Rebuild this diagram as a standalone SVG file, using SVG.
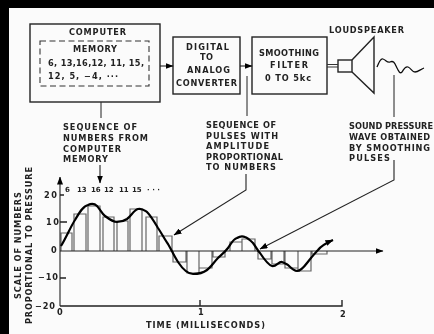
<svg xmlns="http://www.w3.org/2000/svg" width="434" height="334" viewBox="0 0 434 334">
<defs>
<style>
text{font-family:"DejaVu Sans","Liberation Sans",sans-serif;font-size:8.2px;font-weight:bold;fill:#222}
text.n{font-size:7px}
.box{fill:none;stroke:#222;stroke-width:1.4}
.line{fill:none;stroke:#333;stroke-width:1.1}
.arr{fill:none;stroke:#222;stroke-width:1.1;marker-end:url(#ah)}
.bar{fill:none;stroke:#666;stroke-width:1.2}
.curve{fill:none;stroke:#000;stroke-width:2.2;stroke-linejoin:round}
</style>
<marker id="ah" viewBox="0 0 8 6" refX="7.5" refY="3" markerWidth="8" markerHeight="6" markerUnits="userSpaceOnUse" orient="auto"><path d="M0 0L8 3L0 6Z" fill="#000"/></marker>
<filter id="soft" x="-5%" y="-5%" width="110%" height="110%"><feGaussianBlur stdDeviation="0.4"/></filter>
</defs>
<rect width="434" height="334" fill="#000"/>
<rect x="9" y="8" width="425" height="326" fill="#fbfbfb"/>
<g filter="url(#soft)">
<g id="node-computer">
<rect class="box" x="30" y="24" width="130" height="78"/>
<path class="line" stroke-dasharray="6 3.5" d="M40 41H149V86H40Z"/>
<text x="69" y="35" textLength="57">COMPUTER</text>
<text x="73" y="52" textLength="44">MEMORY</text>
<text x="48" y="66" textLength="96">6, 13,16,12, 11, 15,</text>
<text x="48" y="79" textLength="70">12, 5, −4, ···</text>
</g>
<g id="node-converter">
<rect class="box" x="173" y="37" width="67" height="57"/>
<text x="186" y="50" textLength="43">DIGITAL</text>
<text x="200" y="60" textLength="13">TO</text>
<text x="187" y="73" textLength="43">ANALOG</text>
<text x="176" y="86" textLength="61">CONVERTER</text>
</g>
<g id="node-filter">
<rect class="box" x="252" y="37" width="75" height="57"/>
<text x="259" y="56" textLength="60">SMOOTHING</text>
<text x="270" y="68" textLength="38">FILTER</text>
<text x="265" y="81" textLength="46">0 TO 5kc</text>
</g>
<g id="node-loudspeaker">
<rect class="box" x="338" y="60" width="14" height="12"/>
<path class="box" d="M352 60L374 37V93L352 72"/>
<path d="M377 67C379 62 381 58 383 59C386 60 387 63 390 62C394 60 395 64 397 68C399 72 400 74 402 72C404 69 405 66 408 67C411 68 412 72 415 72C418 72 421 69 424 68" fill="none" stroke="#111" stroke-width="1.3"/>
<text x="329" y="33" textLength="75">LOUDSPEAKER</text>
</g>
<g id="label-sequence">
<text x="63" y="130" textLength="74">SEQUENCE OF</text>
<text x="63" y="141" textLength="85">NUMBERS FROM</text>
<text x="63" y="152" textLength="58">COMPUTER</text>
<text x="63" y="162" textLength="45">MEMORY</text>
</g>
<g id="label-pulses">
<text x="206" y="128" textLength="70">SEQUENCE OF</text>
<text x="206" y="139" textLength="72">PULSES WITH</text>
<text x="206" y="149" textLength="63">AMPLITUDE</text>
<text x="206" y="160" textLength="77">PROPORTIONAL</text>
<text x="206" y="170" textLength="70">TO NUMBERS</text>
</g>
<g id="label-wave">
<text x="349" y="129" textLength="84" lengthAdjust="spacingAndGlyphs">SOUND PRESSURE</text>
<text x="349" y="140" textLength="81">WAVE OBTAINED</text>
<text x="349" y="151" textLength="81">BY SMOOTHING</text>
<text x="349" y="161" textLength="41">PULSES</text>
</g>
<g id="connectors">
<path class="arr" d="M160 66H173"/>
<path class="arr" d="M240 66H252"/>
<path d="M327 64.5H338M327 67H338" class="line"/>
<path class="line" d="M101 102V118"/>
<path class="arr" d="M100 165V183"/>
<path class="line" d="M247 76V116"/>
<path class="arr" d="M246 174V190L174 235"/>
<path class="line" d="M394 75V117"/>
<path class="arr" d="M394 160V180L260 249"/>
</g>
<g id="chart">
<path class="bar" d="M61 251V233H72V251M74 251V214H86V251M88 251V206H100V251M103 251V217H114V251M117 251V221H128V251M130 251V209H142V251M146 251V217H157V251M159 251V236H172V251"/>
<path class="bar" d="M173 251V262H186V251M187 251V273H199V251M199 251V268H212V251M213 251V257H225V251M230 251V242H242V251M242 251V239H255V251M258 251V259H271V251M272 251V264H284V251M285 251V268H298V251M298 251V271H311V251M312 251V254H327V251"/>
<path class="arr" d="M60 306V177"/>
<path class="arr" d="M60 251H383"/>
<path class="box" d="M60 306H342V300M200 306V300M60 195H64M60 222H67M60 278H66"/>
<path class="curve" marker-end="url(#ah)" d="M61 246C66 238 71 226 75 220C79 213 83 206 88 205C92 203 95 204 97 206C100 209 102 214 105 216C109 219 113 222 117 222C121 222 124 221 127 219C131 216 134 210 138 209C142 208 144 210 147 212C151 216 155 223 158 228C162 234 165 240 168 244C171 249 174 256 178 262C182 268 187 274 193 274C198 274 203 273 207 270C211 267 214 262 218 258C222 254 225 252 228 248C231 244 233 239 237 238C240 236 243 236 245 237C248 238 251 241 253 243C256 247 258 251 260 253C264 259 268 265 272 266C276 267 279 261 282 262C285 263 286 264 288 265C291 268 294 271 297 271C301 271 304 267 307 263C311 258 314 254 318 250C321 246 324 244 333 240"/>
<text class="n" x="65" y="192">6</text>
<text class="n" x="77" y="192">13</text>
<text class="n" x="91" y="192">16</text>
<text class="n" x="104" y="192">12</text>
<text class="n" x="119" y="192">11</text>
<text class="n" x="132" y="192">15</text>
<text class="n" x="147" y="192" textLength="13">···</text>
<text x="44" y="198" textLength="13">20</text>
<text x="46" y="225" textLength="13">10</text>
<text x="51" y="253">0</text>
<text x="38" y="280" textLength="20">−10</text>
<text x="35" y="309" textLength="20">−20</text>
<text x="57" y="315">0</text>
<text x="198" y="315">1</text>
<text x="340" y="317">2</text>
<text x="146" y="328" textLength="119">TIME (MILLISECONDS)</text>
<text transform="translate(21 299) rotate(-90)" textLength="107">SCALE OF NUMBERS</text>
<text transform="translate(32 324) rotate(-90)" textLength="157">PROPORTIONAL TO PRESSURE</text>
</g>
</g>
</svg>
